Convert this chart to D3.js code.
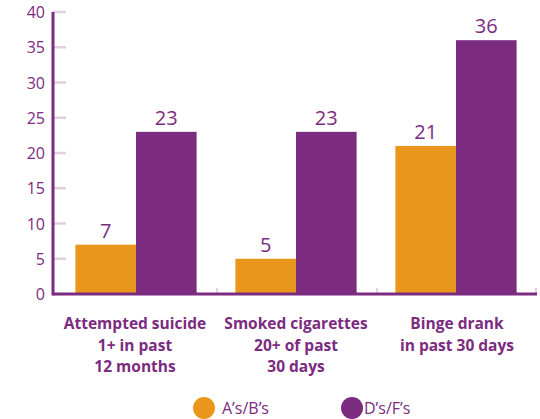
<!DOCTYPE html>
<html><head><meta charset="utf-8">
<script src="https://cdn.jsdelivr.net/npm/d3@7"></script>
<style>body{margin:0;background:#fff}svg{display:block}</style>
</head><body>
<svg id="c" width="540" height="419"></svg>
<script>
const categories = [["Attempted suicide","1+ in past","12 months"],["Smoked cigarettes","20+ of past","30 days"],["Binge drank","in past 30 days"]];
const seriesNames = ["A\u2019s/B\u2019s","D\u2019s/F\u2019s"];
const seriesAB = [7,5,21];
const seriesDF = [23,23,36];
const yTicks = [0,5,10,15,20,25,30,35,40];
const colors = ["#E8971C","#7B2B80"];
const purple = "#7B2B80", pale = "#E3CEE3";
const font = "'Open Sans', sans-serif";

const svg = d3.select("#c");
const x0 = d3.scaleBand().domain([0,1,2]).range([56,536]).padding(0);
const x1 = d3.scaleBand().domain([0,1]).range([0,x0.bandwidth()]).paddingOuter(0.32).paddingInner(0);
const y = d3.scaleLinear().domain([0,40]).range([294,12]);
const AX = 53;

// y ticks
svg.append("g").selectAll("line").data(yTicks).join("line")
  .attr("x1",AX).attr("x2",AX+13).attr("y1",d=>y(d)).attr("y2",d=>y(d))
  .attr("stroke",pale).attr("stroke-width",2.5);
svg.append("g").selectAll("text").data(yTicks).join("text")
  .attr("x",45).attr("y",d=>y(d)+6).attr("text-anchor","end")
  .attr("font-family",font).attr("font-size",16).attr("fill",purple).text(d=>d);

// bars
const data = [seriesAB, seriesDF];
const g = svg.append("g");
data.forEach((s,si)=>{
  g.selectAll(null).data(s).join("rect")
    .attr("x",(d,i)=>x0(i)+x1(si)).attr("width",x1.bandwidth())
    .attr("y",d=>y(d)).attr("height",d=>y(0)-y(d)).attr("fill",colors[si]);
  g.selectAll(null).data(s).join("text")
    .attr("x",(d,i)=>x0(i)+x1(si)+x1.bandwidth()/2).attr("y",d=>y(d)-7)
    .attr("text-anchor","middle").attr("font-family",font).attr("font-size",20)
    .attr("fill",purple).text(d=>d);
});

// band boundary ticks on baseline
svg.append("g").selectAll("line").data([1,2,3]).join("line")
  .attr("x1",i=>i<3?x0(i)+1:536).attr("x2",i=>i<3?x0(i)+1:536)
  .attr("y1",288).attr("y2",294).attr("stroke",pale).attr("stroke-width",2);

// axis lines
svg.append("line").attr("x1",AX).attr("x2",AX).attr("y1",12).attr("y2",y(0)+1.5)
  .attr("stroke",purple).attr("stroke-width",3);
svg.append("line").attr("x1",AX).attr("x2",537).attr("y1",y(0)).attr("y2",y(0))
  .attr("stroke",purple).attr("stroke-width",3);

// category labels
const centers = [135,296,457];
categories.forEach((lines,i)=>{
  const t = svg.append("text").attr("text-anchor","middle").attr("font-family",font)
    .attr("font-weight",700).attr("font-size",15.5).attr("fill",purple);
  lines.forEach((l,j)=>t.append("tspan").attr("x",centers[i]).attr("y",329+j*21.5).text(l));
});

// legend
const leg = [[204,222],[352,364]];
seriesNames.forEach((n,i)=>{
  svg.append("circle").attr("cx",leg[i][0]).attr("cy",408).attr("r",11).attr("fill",colors[i]);
  svg.append("text").attr("x",leg[i][1]).attr("y",414).attr("font-family",font)
    .attr("font-size",16).attr("fill",purple).text(n);
});
</script>
</body></html>
